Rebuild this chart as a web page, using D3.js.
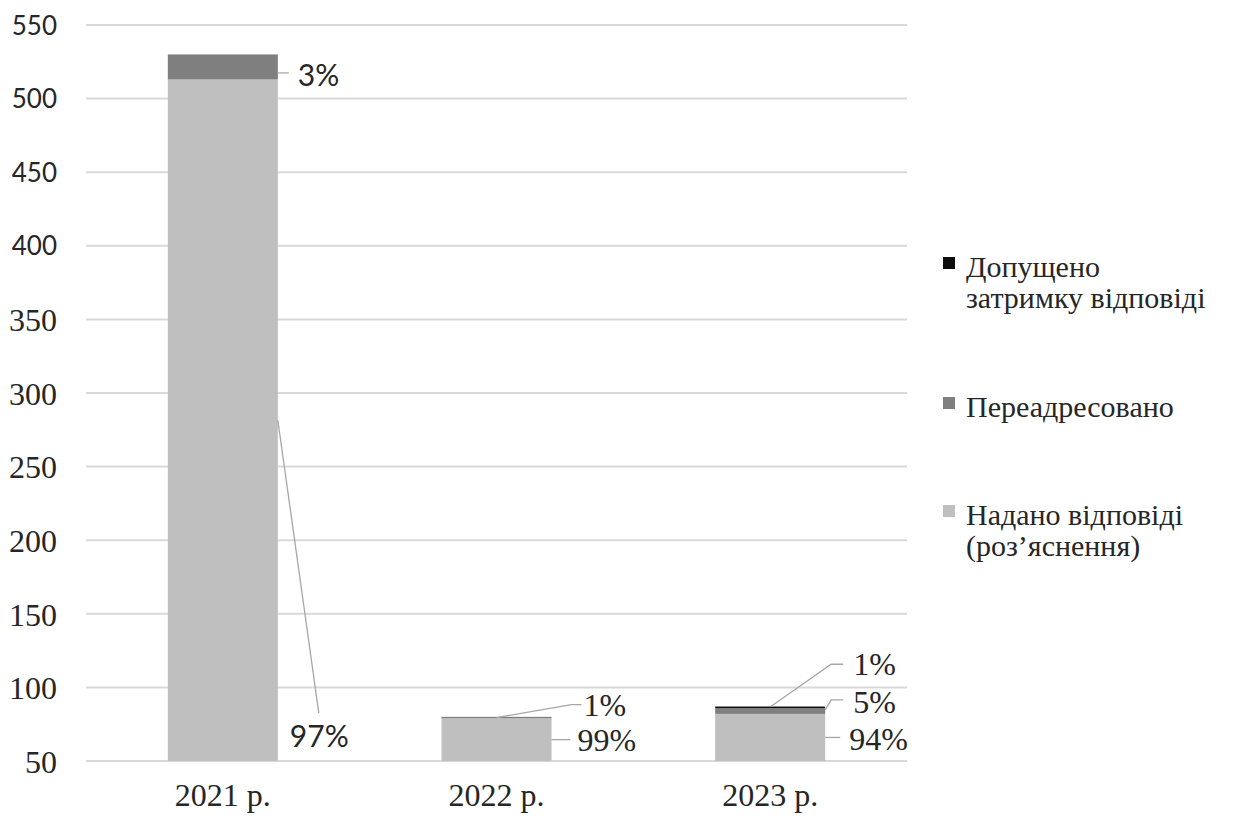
<!DOCTYPE html>
<html>
<head>
<meta charset="utf-8">
<script src="https://cdn.jsdelivr.net/npm/d3@7"></script>
<style>
  html, body { margin: 0; padding: 0; background: #fff; }
  svg { display: block; }
  .serif { font-family: "Liberation Serif", "Times New Roman", Times, serif; }
  .sans { font-family: Lato, "Liberation Sans", sans-serif; }
</style>
</head>
<body>
<svg id="chart" width="1238" height="819"></svg>
<script>
// ---- data ----
const categories = ["2021 р.", "2022 р.", "2023 р."];
const seriesNames = ["Надано відповіді (роз’яснення)", "Переадресовано", "Допущено затримку відповіді"];
const answered   = [513, 79, 82];
const redirected = [17, 1, 4];
const delayed    = [0, 0, 1];
const yTicks = [50, 100, 150, 200, 250, 300, 350, 400, 450, 500, 550];
const seriesColors = ["#bfbfbf", "#7f7f7f", "#0d0d0d"];

// legend lines (top to bottom)
const legendItems = [
  { series: 2, lines: ["Допущено", "затримку відповіді"] },
  { series: 1, lines: ["Переадресовано"] },
  { series: 0, lines: ["Надано відповіді", "(роз’яснення)"] }
];

// data-label placement (offsets from anchor on the bar)
const labelLayout = [
  { cat: 0, s: 0, anchor: "right", tx: 12, ty: 316, leader: [[0,0],[41,293]], font: "sans" },
  { cat: 0, s: 1, anchor: "right", tx: 20, ty: 9,   leader: [[0,6],[11,6]], font: "sans" },
  { cat: 1, s: 0, anchor: "right", tx: 26, ty: 0,   leader: [[0,0],[19,0]], font: "serif" },
  { cat: 1, s: 1, anchor: "top",   tx: 87, ty: -13, leader: [[0,0],[75,-13],[85,-13]], font: "serif" },
  { cat: 2, s: 0, anchor: "right", tx: 24, ty: 1,   leader: [[0,0],[15,0]], font: "serif" },
  { cat: 2, s: 1, anchor: "right", tx: 28, ty: -9,  leader: [[0,-1],[6,-11],[18,-11]], font: "serif" },
  { cat: 2, s: 2, anchor: "top",   tx: 83, ty: -43, leader: [[1,-1],[61,-43],[73,-43]], font: "serif" }
];

// ---- drawing ----
const svg = d3.select("#chart");
const fontSize = 32;

const x = d3.scaleBand().domain(categories).range([86, 907]).paddingInner(0.598).paddingOuter(0.299);
const y = d3.scaleLinear().domain([50, 550]).range([761, 25]);

// gridlines
svg.append("g").selectAll("line").data(yTicks).join("line")
  .attr("x1", 86).attr("x2", 907)
  .attr("y1", d => y(d)).attr("y2", d => y(d))
  .attr("stroke", "#d9d9d9").attr("stroke-width", 2);

// y axis labels
const yAxis = d3.axisLeft(y).tickValues(yTicks).tickSize(0).tickPadding(0);
const ya = svg.append("g").attr("transform", "translate(57,0)").call(yAxis)
  .attr("font-family", null).attr("font-size", null);
ya.select(".domain").remove();
ya.selectAll("text")
  .attr("class", d => d >= 400 ? "sans" : "serif")
  .style("font-size", d => (d >= 400 ? 26 : fontSize) + "px")
  .attr("fill", "#262626")
  .attr("dy", "0.35em");

// stacked data
const rows = categories.map((c, i) => ({ cat: c, v0: answered[i], v1: redirected[i], v2: delayed[i] }));
const stack = d3.stack().keys(["v0", "v1", "v2"]);
const stacked = stack(rows);

const clampY = v => y(Math.max(50, v));
svg.append("g").selectAll("g").data(stacked).join("g")
  .attr("fill", (d, i) => seriesColors[i])
  .selectAll("rect").data(d => d).join("rect")
  .attr("x", d => x(d.data.cat))
  .attr("width", x.bandwidth())
  .attr("y", d => clampY(d[1]))
  .attr("height", d => Math.max(0, clampY(d[0]) - clampY(d[1])));

// x axis labels
const xAxis = d3.axisBottom(x).tickSize(0).tickPadding(0);
const xa = svg.append("g").attr("transform", "translate(0,806)").call(xAxis)
  .attr("font-family", null).attr("font-size", null);
xa.select(".domain").remove();
xa.selectAll("text")
  .attr("class", "serif").style("font-size", fontSize + "px")
  .attr("fill", "#262626").attr("dy", "0");

// data labels
const totals = rows.map(r => r.v0 + r.v1 + r.v2);
const lbl = svg.append("g");
labelLayout.forEach(L => {
  const seg = stacked[L.s][L.cat];
  const lo = Math.max(50, seg[0]), hi = seg[1];
  let ax, ay;
  if (L.anchor === "right") { ax = x(categories[L.cat]) + x.bandwidth(); ay = y((lo + hi) / 2); }
  else { ax = x(categories[L.cat]) + x.bandwidth() / 2; ay = y((lo + hi) / 2); }
  const pts = L.leader.map(p => [ax + p[0], ay + p[1]]);
  lbl.append("path")
    .attr("d", d3.line()(pts))
    .attr("fill", "none").attr("stroke", "#a6a6a6").attr("stroke-width", 1.3);
  const val = [answered, redirected, delayed][L.s][L.cat];
  lbl.append("text")
    .attr("x", ax + L.tx).attr("y", ay + L.ty)
    .attr("dy", "0.35em")
    .attr("class", L.font)
    .style("font-size", (L.font === "sans" ? 30 : fontSize) + "px")
    .attr("fill", "#262626")
    .text(Math.round(val / totals[L.cat] * 100) + "%");
});

// legend
const legendTop = [277, 417, 525];
const leg = svg.append("g");
legendItems.forEach((item, i) => {
  const g = leg.append("g");
  g.append("rect").attr("x", 943).attr("y", legendTop[i] - 20).attr("width", 12).attr("height", 12)
    .attr("fill", seriesColors[item.series]);
  item.lines.forEach((ln, j) => {
    g.append("text").attr("x", 966).attr("y", legendTop[i] + j * 31)
      .attr("class", "serif").style("font-size", "30px").attr("fill", "#262626")
      .text(ln);
  });
});
</script>
</body>
</html>
